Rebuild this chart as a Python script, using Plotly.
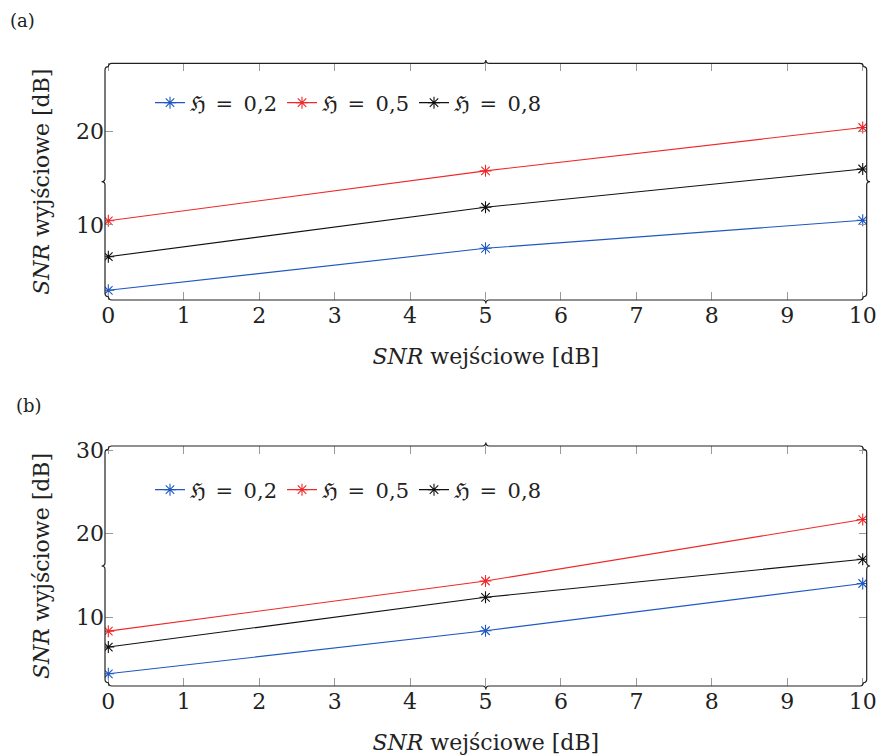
import numpy as np
import plotly.graph_objects as go

OFF = 0
W, H = 879, 756

snr_in = [0, 5, 10]
labels = ["ℌ\u2002=\u20020,2", "ℌ\u2002=\u20020,5", "ℌ\u2002=\u20020,8"]
colors = ["#1f58c0", "#f02828", "#111111"]

# panel (a)
a_h02 = [3.0, 7.5, 10.5]
a_h05 = [10.45, 15.8, 20.45]
a_h08 = [6.6, 11.9, 16.0]
# panel (b)
b_h02 = [3.25, 8.4, 14.05]
b_h05 = [8.35, 14.35, 21.7]
b_h08 = [6.45, 12.4, 16.95]

FONT = "DejaVu Serif"

fig = go.Figure()
for vals, name, col in zip([a_h02, a_h05, a_h08], labels, colors):
    fig.add_trace(go.Scatter(x=snr_in, y=vals, name=name, mode="lines+markers",
                             line=dict(color=col, width=1.1),
                             marker=dict(symbol="asterisk-open", size=10, line=dict(color=col, width=1.1)),
                             xaxis="x", yaxis="y", legend="legend"))
for vals, name, col in zip([b_h02, b_h05, b_h08], labels, colors):
    fig.add_trace(go.Scatter(x=snr_in, y=vals, name=name, mode="lines+markers",
                             line=dict(color=col, width=1.1),
                             marker=dict(symbol="asterisk-open", size=10, line=dict(color=col, width=1.1)),
                             xaxis="x2", yaxis="y2", legend="legend2"))

L, R = 105.0, 866.7
frames = [(63.3, 300.0), (446.0, 686.0)]

def px2paper(p):
    return (p[0] - OFF) / W, 1 - (p[1] - OFF) / H

def brace(A, B, n, h):
    A = np.array(A, float); B = np.array(B, float); n = np.array(n, float)
    t = (B - A) / np.linalg.norm(B - A)
    M = (A + B) / 2
    seq = [
        ("M", [A]),
        ("Q", [A + n * h, A + n * h + t * h]),
        ("L", [M - t * h + n * h]),
        ("Q", [M + n * h, M + n * 2 * h]),
        ("Q", [M + n * h, M + t * h + n * h]),
        ("L", [B - t * h + n * h]),
        ("Q", [B + n * h, B]),
    ]
    s = ""
    for cmd, pts in seq:
        s += cmd + " " + " ".join("%.5f,%.5f" % px2paper(p) for p in pts) + " "
    return s.strip()

h = 3.4
shapes = []
for (T, Bm) in frames:
    c_bl = (L + h, Bm - h); c_tl = (L + h, T + h); c_tr = (R - h, T + h); c_br = (R - h, Bm - h)
    for A, B, n in [(c_bl, c_tl, (-1, 0)), (c_tl, c_tr, (0, -1)), (c_tr, c_br, (1, 0)), (c_br, c_bl, (0, 1))]:
        shapes.append(dict(type="path", xref="paper", yref="paper", path=brace(A, B, n, h),
                           line=dict(color="#222222", width=1.2)))

axis_common = dict(showgrid=False, zeroline=False, showline=False, ticks="inside", ticklen=8,
                   tickcolor="#9a9a9a", tickwidth=1, mirror="ticks", automargin=False,
                   ticklabeloverflow="allow",
                   tickfont=dict(family=FONT, size=22, color="#222"))

xdom = [(L - OFF) / W, (R - OFF) / W]
ydom_a = [1 - (frames[0][1] - OFF) / H, 1 - (frames[0][0] - OFF) / H]
ydom_b = [1 - (frames[1][1] - OFF) / H, 1 - (frames[1][0] - OFF) / H]

xtitle = dict(text="<i>SNR</i> wejściowe [dB]", font=dict(family=FONT, size=22, color="#222"), standoff=21)
ytitle = dict(text="<i>SNR</i> wyjściowe [dB]", font=dict(family=FONT, size=22, color="#222"), standoff=20)

fig.update_layout(
    width=W, height=H, margin=dict(l=0, r=0, t=0, b=0, autoexpand=False),
    paper_bgcolor="white", plot_bgcolor="white",
    font=dict(family=FONT, color="#222"),
    xaxis=dict(domain=xdom, anchor="y", range=[-0.044, 10.053], tickvals=list(range(11)),
               title=xtitle, **axis_common),
    yaxis=dict(domain=ydom_a, anchor="x", range=[1.96, 27.33], tickvals=[10, 20],
               title=ytitle, **axis_common),
    xaxis2=dict(domain=xdom, anchor="y2", range=[-0.044, 10.053], tickvals=list(range(11)),
                title=xtitle, **axis_common),
    yaxis2=dict(domain=ydom_b, anchor="x2", range=[1.79, 30.5], tickvals=[10, 20, 30],
                title=ytitle, **axis_common),
    legend=dict(orientation="h", x=(150 - OFF) / W, xanchor="left", y=1 - (103 - OFF) / H, yanchor="middle",
                font=dict(family=FONT, size=21, color="#222"), bgcolor="rgba(0,0,0,0)",
                itemwidth=30, tracegroupgap=0),
    legend2=dict(orientation="h", x=(150 - OFF) / W, xanchor="left", y=1 - (490 - OFF) / H, yanchor="middle",
                 font=dict(family=FONT, size=21, color="#222"), bgcolor="rgba(0,0,0,0)",
                 itemwidth=30, tracegroupgap=0),
    shapes=shapes,
    annotations=[
        dict(text="(a)", x=(8 - OFF) / W, y=1 - (20 - OFF) / H, xref="paper", yref="paper", xanchor="left",
             yanchor="middle", showarrow=False, font=dict(family=FONT, size=18, color="#222")),
        dict(text="(b)", x=(14 - OFF) / W, y=1 - (405 - OFF) / H, xref="paper", yref="paper", xanchor="left",
             yanchor="middle", showarrow=False, font=dict(family=FONT, size=18, color="#222")),
    ],
)

fig.write_html("out.html", config={"displayModeBar": False},
               post_script="document.body.style.margin='0';document.body.style.overflow='hidden';")
